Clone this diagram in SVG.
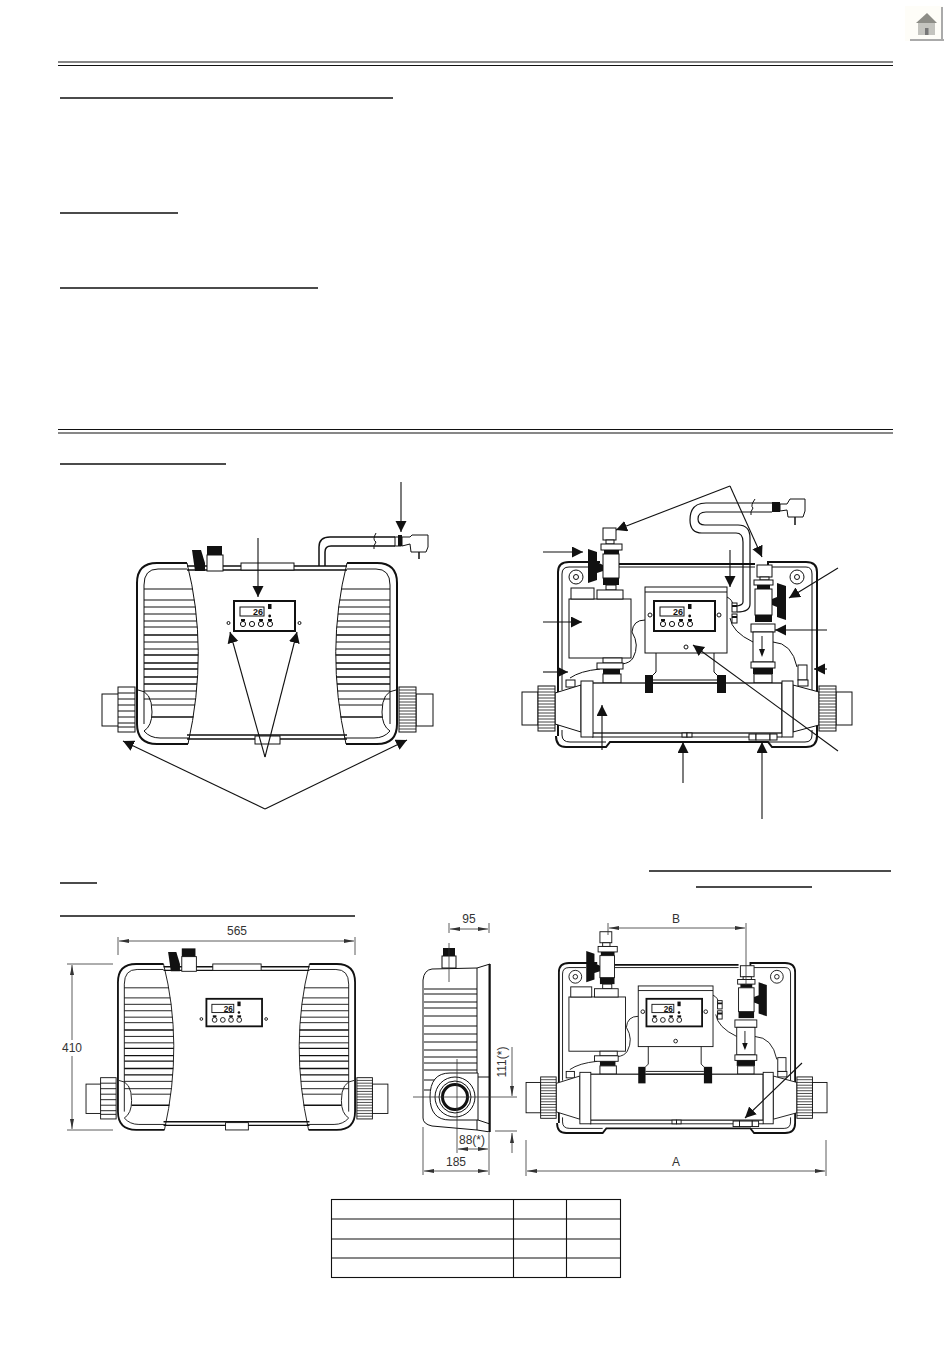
<svg xmlns="http://www.w3.org/2000/svg" width="950" height="1353" viewBox="0 0 950 1353">
<style>
.l{fill:none;stroke:#111;stroke-width:1}
.t{fill:none;stroke:#111;stroke-width:2}
.f{fill:#fff;stroke:#111;stroke-width:1}
.ft{fill:#fff;stroke:#111;stroke-width:2}
.k{fill:#111;stroke:none}
.a{fill:none;stroke:#111;stroke-width:1.1;marker-end:url(#big)}
.d{fill:none;stroke:#333;stroke-width:.8}
.da{fill:none;stroke:#333;stroke-width:.8;marker-end:url(#sm);marker-start:url(#sm)}
.de{fill:none;stroke:#333;stroke-width:.8;marker-end:url(#sm)}
.r{fill:none;stroke:#111;stroke-width:1.5}
.x{font-family:"Liberation Sans",Arial,sans-serif;font-size:12px;fill:#333;text-anchor:middle}
.lcd{font-family:"Liberation Sans",Arial,sans-serif;font-size:9px;font-weight:bold;fill:#111;text-anchor:end}
</style>
<defs>
<marker id="big" markerUnits="userSpaceOnUse" markerWidth="12" markerHeight="12" refX="11" refY="5.500" orient="auto"><path d="M0 0L11 5.500L0 11Z" fill="#111"/></marker>
<marker id="sm" markerUnits="userSpaceOnUse" markerWidth="11" markerHeight="5" refX="10" refY="2.500" orient="auto-start-reverse"><path d="M0 .5L10 2.500L0 4.500Z" fill="#333"/></marker>
<clipPath id="pc"><path d="M140 560H187Q209 650 188 748H140Z"/></clipPath>
<g id="dial">
<rect class="ft" x="0" y="0" width="61" height="30"/>
<rect class="l" x="6" y="6" width="24" height="9"/>
<text class="lcd" x="29" y="14">26</text>
<rect class="k" x="34" y="3" width="3.500" height="5"/>
<circle class="k" cx="35.700" cy="15" r="1.400"/>
<g class="f"><circle cx="9" cy="23" r="2.600"/><circle cx="18" cy="23" r="2.600"/><circle cx="27" cy="23" r="2.600"/><circle cx="36" cy="23" r="2.600"/></g>
<rect class="k" x="7" y="18" width="4" height="2"/><rect class="k" x="25" y="18" width="4" height="2"/><rect class="k" x="34" y="18" width="4" height="2"/>
</g>
<g id="panelL">
<path class="l" d="M187 569H158Q144 569 144 585V724"/>
<path class="t" d="M187 563H157Q137 563 137 583V724Q137 744 157 744H188"/>
<path class="l" d="M187 563Q209 650 188 744"/>
<path class="l" d="M138 690Q152 691 152 712Q152 726 144 731Q150 738 160 738H190"/>
<g clip-path="url(#pc)">
<path class="l" d="M144 589H205M144 600H205M144 607H205M144 614H205M144 621H205M144 627H205M144 642H205M144 649H205M144 691H205M144 699H205M152 705H205"/>
<path class="r" d="M144 635H205M144 655H205M144 663H205M144 669H205M144 677H205M144 684H205M152 717H205"/>
</g>
</g>
<g id="nut">
<rect class="f" x="0" y="0" width="17" height="45"/>
<path class="l" d="M0 3H17M0 6H17M0 9H17M0 12H17M0 15H17M0 18H17M0 21H17M0 24H17M0 27H17M0 30H17M0 33H17M0 36H17M0 39H17M0 42H17" style="stroke-width:.8"/>
</g>
<g id="front">
<rect class="f" x="102" y="694" width="17" height="32"/>
<rect class="f" x="416" y="694" width="17" height="32"/>
<path class="r" d="M187 566H347M187 570H347M187 735H347M187 739H347"/>
<rect class="f" x="241" y="563" width="53" height="7"/>
<rect class="f" x="255" y="736" width="25" height="8"/>
<rect class="f" x="207" y="555" width="16" height="16"/>
<rect class="k" x="207" y="546" width="15" height="9"/>
<path class="k" d="M192 550H201L205 563V571H195Z"/>
<use href="#panelL"/>
<use href="#panelL" transform="matrix(-1 0 0 1 534 0)"/>
<rect class="f" x="118" y="687" width="17" height="45"/>
<path class="l" d="M118 693H135M118 699H135M118 705H135M118 711H135M118 717H135M118 723H135M118 727H135"/>
<use href="#nut" x="399" y="687"/>
<use href="#dial" x="234" y="601"/>
<circle class="l" cx="228.500" cy="623" r="1.500"/><circle class="l" cx="299.500" cy="623" r="1.500"/>
</g>
<g id="heater">
<path class="t" d="M566 747H606L610 742H768L772 747H806Q817 747 817 736V572Q817 562 806 562H768V565M558 736V572Q558 562 569 562H600M619 564H755M566 747Q556 747 556 736"/>
<path class="l" d="M619 567H755M772 567H806Q812 567 812 574V690M562 690V574Q562 567 569 567H588"/>
<path class="l" d="M562 730V735Q562 742 570 742H606M768 742H805Q812 742 812 735V730"/>
<circle class="l" cx="576" cy="577" r="7"/><circle class="l" cx="576" cy="577" r="2.500"/>
<circle class="l" cx="797" cy="577" r="7"/><circle class="l" cx="797" cy="577" r="2.500"/>
<path class="l" d="M645 620Q633 620 632 632Q640 645 633 658Q630 663 622 664M600 669Q580 671 570 678M730 618Q732 632 753 642M773 642Q792 643 797 667M727 597Q733 600 733 606"/>
<rect class="f" x="566" y="680" width="9" height="7"/><rect class="f" x="798" y="665" width="9" height="15"/><rect class="f" x="798" y="680" width="10" height="6"/>
<rect class="f" x="569" y="599" width="62" height="59"/>
<rect class="f" x="571" y="588" width="23" height="11"/>
<rect class="f" x="603" y="528" width="13" height="12"/>
<rect class="f" x="606" y="540" width="8" height="4"/>
<rect class="f" x="601" y="544" width="21" height="6"/>
<rect class="k" x="604" y="550" width="15" height="4"/>
<rect class="f" x="603" y="554" width="16" height="24"/>
<rect class="k" x="603" y="578" width="16" height="7"/>
<rect class="f" x="606" y="585" width="10" height="5"/>
<rect class="f" x="597" y="590" width="26" height="9"/>
<rect class="f" x="603" y="658" width="19" height="5"/>
<rect class="f" x="597" y="663" width="26" height="6"/>
<rect class="k" x="603" y="669" width="17" height="5"/>
<rect class="f" x="603" y="674" width="18" height="9"/>
<path class="k" d="M588 549L597 552L597 562L603 565V571L597 573V580L588 583Z"/>
<rect class="f" x="757" y="565" width="15" height="12"/>
<rect class="f" x="760" y="577" width="9" height="3"/>
<rect class="f" x="754" y="580" width="19" height="5"/>
<rect class="k" x="757" y="585" width="13" height="4"/>
<rect class="f" x="755" y="589" width="17" height="26"/>
<rect class="k" x="755" y="615" width="17" height="7"/>
<rect class="f" x="751" y="624" width="24" height="8"/>
<rect class="f" x="753" y="632" width="20" height="30"/>
<path class="l" d="M762 636V650"/><path class="k" d="M759 649H765L762 657Z"/>
<rect class="f" x="751" y="662" width="24" height="6"/>
<rect class="k" x="753" y="668" width="20" height="6"/>
<rect class="f" x="754" y="674" width="18" height="9"/>
<path class="k" d="M777 583L786 586V620L777 617V607L772 605V599L777 597Z"/>
<rect class="f" x="645" y="587" width="82" height="66"/>
<path class="l" d="M645 592H727"/>
<use href="#dial" x="654" y="601"/>
<circle class="l" cx="650" cy="615" r="2"/><circle class="l" cx="719" cy="615" r="2"/><circle class="l" cx="686" cy="647" r="2"/>
<rect class="f" x="732" y="603" width="5" height="9"/><rect class="f" x="732" y="614" width="5" height="9"/>
<path class="k" d="M732 605H737V607H732ZM732 616H737V618H732Z"/>
<path class="f" d="M555 693L581 685V732L555 724Z"/>
<path class="f" d="M819 692L793 685V732L819 725Z"/>
<rect class="f" x="592" y="683" width="190" height="50" style="stroke-width:1.300"/>
<path class="l" d="M592 737H782"/>
<path class="l" d="M656 653V672L653 675M714 653V672L717 675M653 680H717M653 683H717"/>
<rect class="k" x="645" y="675" width="8" height="18"/><rect class="k" x="717" y="675" width="9" height="18"/>
<rect class="f" x="581" y="681" width="12" height="56"/><rect class="f" x="782" y="681" width="11" height="56"/>
<rect class="f" x="749" y="734" width="7" height="6"/><rect class="f" x="756" y="734" width="14" height="6"/><rect class="f" x="770" y="734" width="7" height="6"/>
<rect class="f" x="682" y="733" width="5" height="4"/><rect class="f" x="687" y="733" width="5" height="4"/>
<rect class="f" x="522" y="692" width="16" height="33"/>
<use href="#nut" x="538" y="686"/>
<rect class="f" x="836" y="692" width="16" height="33"/>
<use href="#nut" x="819" y="686"/>
</g>
</defs>
<rect width="950" height="1353" fill="#fff"/>
<g id="home">
<rect x="905" y="6" width="38" height="35" fill="#fefdf8"/>
<path d="M916 23L927 13L937 23Z" fill="#8d8d87"/><rect x="918" y="23" width="17" height="12" fill="#c4c4bf"/><rect x="925" y="28" width="3.500" height="7" fill="#777"/>
<path d="M942 7V41M910 40H944" fill="none" stroke="#aaa" stroke-width="2"/>
</g>
<g id="rules" stroke="#111" fill="none">
<path stroke-width="1.200" d="M58 62H893M58 65.500H893M58 429.500H893M58 433H893"/>
<path stroke-width="1.300" d="M60 98H393M60 213H178M60 288H318M60 464H226M649 871H891M696 887H812M60 883H97M60 916H355"/>
</g>
<g id="fig-front">
<use href="#front"/>
<path class="t" d="M319 566V547Q319 537 330 537H395M325 566V552Q325 546 331 546H395" style="stroke-width:1.500"/>
<path class="l" d="M376 533Q372 540 376 542Q373 546 374 549"/>
<rect class="f" x="395" y="537" width="6" height="9"/><rect class="k" x="398" y="535" width="4" height="11"/>
<path class="f" d="M402 537H410L412 535H428V547L426 552H411L410 544L402 546Z"/>
<path class="l" d="M419 552V559" style="stroke-width:1.500"/>
</g>
<g id="fig-back">
<use href="#heater"/>
<path class="r" d="M772 503H706Q690 503 690 520Q690 533 702 533H736Q743 533 743 542V602Q743 605 737 606M772 512H706Q698 512 698 519Q698 525 705 525H738Q750 525 750 538V604Q750 612 737 612" style="stroke-width:1.200"/>
<path class="l" d="M755 499Q750 506 753 508Q750 512 751 515"/>
<rect class="k" x="772" y="502" width="8" height="10"/>
<path class="f" d="M780 504H787L790 499H805V511L803 517H788L787 510L780 511Z"/>
<path class="l" d="M795 517V525" style="stroke-width:1.500"/>
</g>
<g id="connectors">
<path class="a" d="M401 482V532"/>
<path class="a" d="M258 538V597"/>
<path class="a" d="M265 757L230 632"/>
<path class="a" d="M265 757L297 632"/>
<path class="a" d="M265 809L123 741"/>
<path class="a" d="M265 809L407 740"/>
<path class="a" d="M730 486L616 530"/>
<path class="a" d="M730 486L762 557"/>
<path class="a" d="M543 552H583"/>
<path class="a" d="M543 622H582"/>
<path class="a" d="M543 672H568"/>
<path class="a" d="M602 750V705"/>
<path class="a" d="M730 550V587"/>
<path class="a" d="M838 568L789 598"/>
<path class="a" d="M827 630H775"/>
<path class="a" d="M827 669H814"/>
<path class="a" d="M838 751L693 645"/>
<path class="a" d="M683 783V742"/>
<path class="a" d="M762 819V742"/>
</g>
<g id="fig-dim-front">
<use href="#front" transform="matrix(.912 0 0 .917 -7 447.700)"/>
<path class="da" d="M119 941H354"/>
<path class="d" d="M118 937V955M355 937V955"/>
<text class="x" x="237" y="935">565</text>
<path class="de" d="M72 1040V965"/>
<path class="de" d="M72 1056V1129"/>
<path class="d" d="M67 964H113M67 1130H113"/>
<text class="x" x="72" y="1052">410</text>
</g>
<g id="fig-dim-side">
<path class="f" d="M423 980Q424 970 432 969L477 968L490 964V1132L477 1130L432 1126Q423 1124 423 1118Z"/>
<path class="l" d="M477 968V1130"/>
<path class="k" d="M488.500 964H490.500V1132H488.500Z"/>
<path class="l" d="M424 989H477M424 994H477M424 1002H477M424 1008H477M424 1016H477M424 1026H477M424 1034H477M424 1042H477M424 1050H477M424 1057H477M424 1063H477M424 1070H477M424 1080H445M424 1090H434"/>
<rect class="f" x="442" y="956" width="14" height="12"/>
<rect class="k" x="443" y="948" width="12" height="8"/>
<path class="f" d="M430 1097Q430 1073 450 1073H478V1120H450Q430 1120 430 1097Z"/>
<path class="l" d="M478 1077H490M478 1120L490 1124"/>
<circle class="l" cx="455" cy="1097" r="20"/>
<circle class="l" cx="455" cy="1097" r="16"/>
<circle cx="455" cy="1097" r="12.500" fill="#fff" stroke="#111" stroke-width="3"/>
<path class="d" d="M449 943V982M413 1097H517M457 1059V1153"/>
<path class="da" d="M450 929H488"/>
<path class="d" d="M449 923V933M489 923V933"/>
<text class="x" x="469" y="923">95</text>
<path class="de" d="M512 1047V1096"/>
<path class="de" d="M512 1153V1133"/>
<path class="d" d="M495 1131H517"/>
<text class="x" transform="translate(506 1062) rotate(-90)" x="0" y="0">111(*)</text>
<path class="da" d="M458 1149H488"/>
<path class="d" d="M489 1133V1175"/>
<text class="x" x="472" y="1144">88(*)</text>
<path class="da" d="M424 1171H488"/>
<path class="d" d="M423 1127V1175"/>
<text class="x" x="456" y="1166">185</text>
</g>
<g id="fig-dim-back">
<use href="#heater" transform="matrix(.912 0 0 .919 50 446.500)"/>
<path class="da" d="M609 928H745"/>
<path class="d" d="M608 923V935M746 923V985"/>
<text class="x" x="676" y="923">B</text>
<path class="da" d="M527 1171H825"/>
<path class="d" d="M526 1140V1176M826 1140V1176"/>
<text class="x" x="676" y="1166">A</text>
<path class="a" d="M802 1063L745 1118"/>
</g>
<g id="table" fill="none" stroke="#111" stroke-width="1.100">
<rect x="331.500" y="1199.500" width="289" height="78"/>
<path d="M331 1219H621M331 1239H621M331 1258H621M513.500 1199V1278M566.500 1199V1278"/>
</g>
</svg>
